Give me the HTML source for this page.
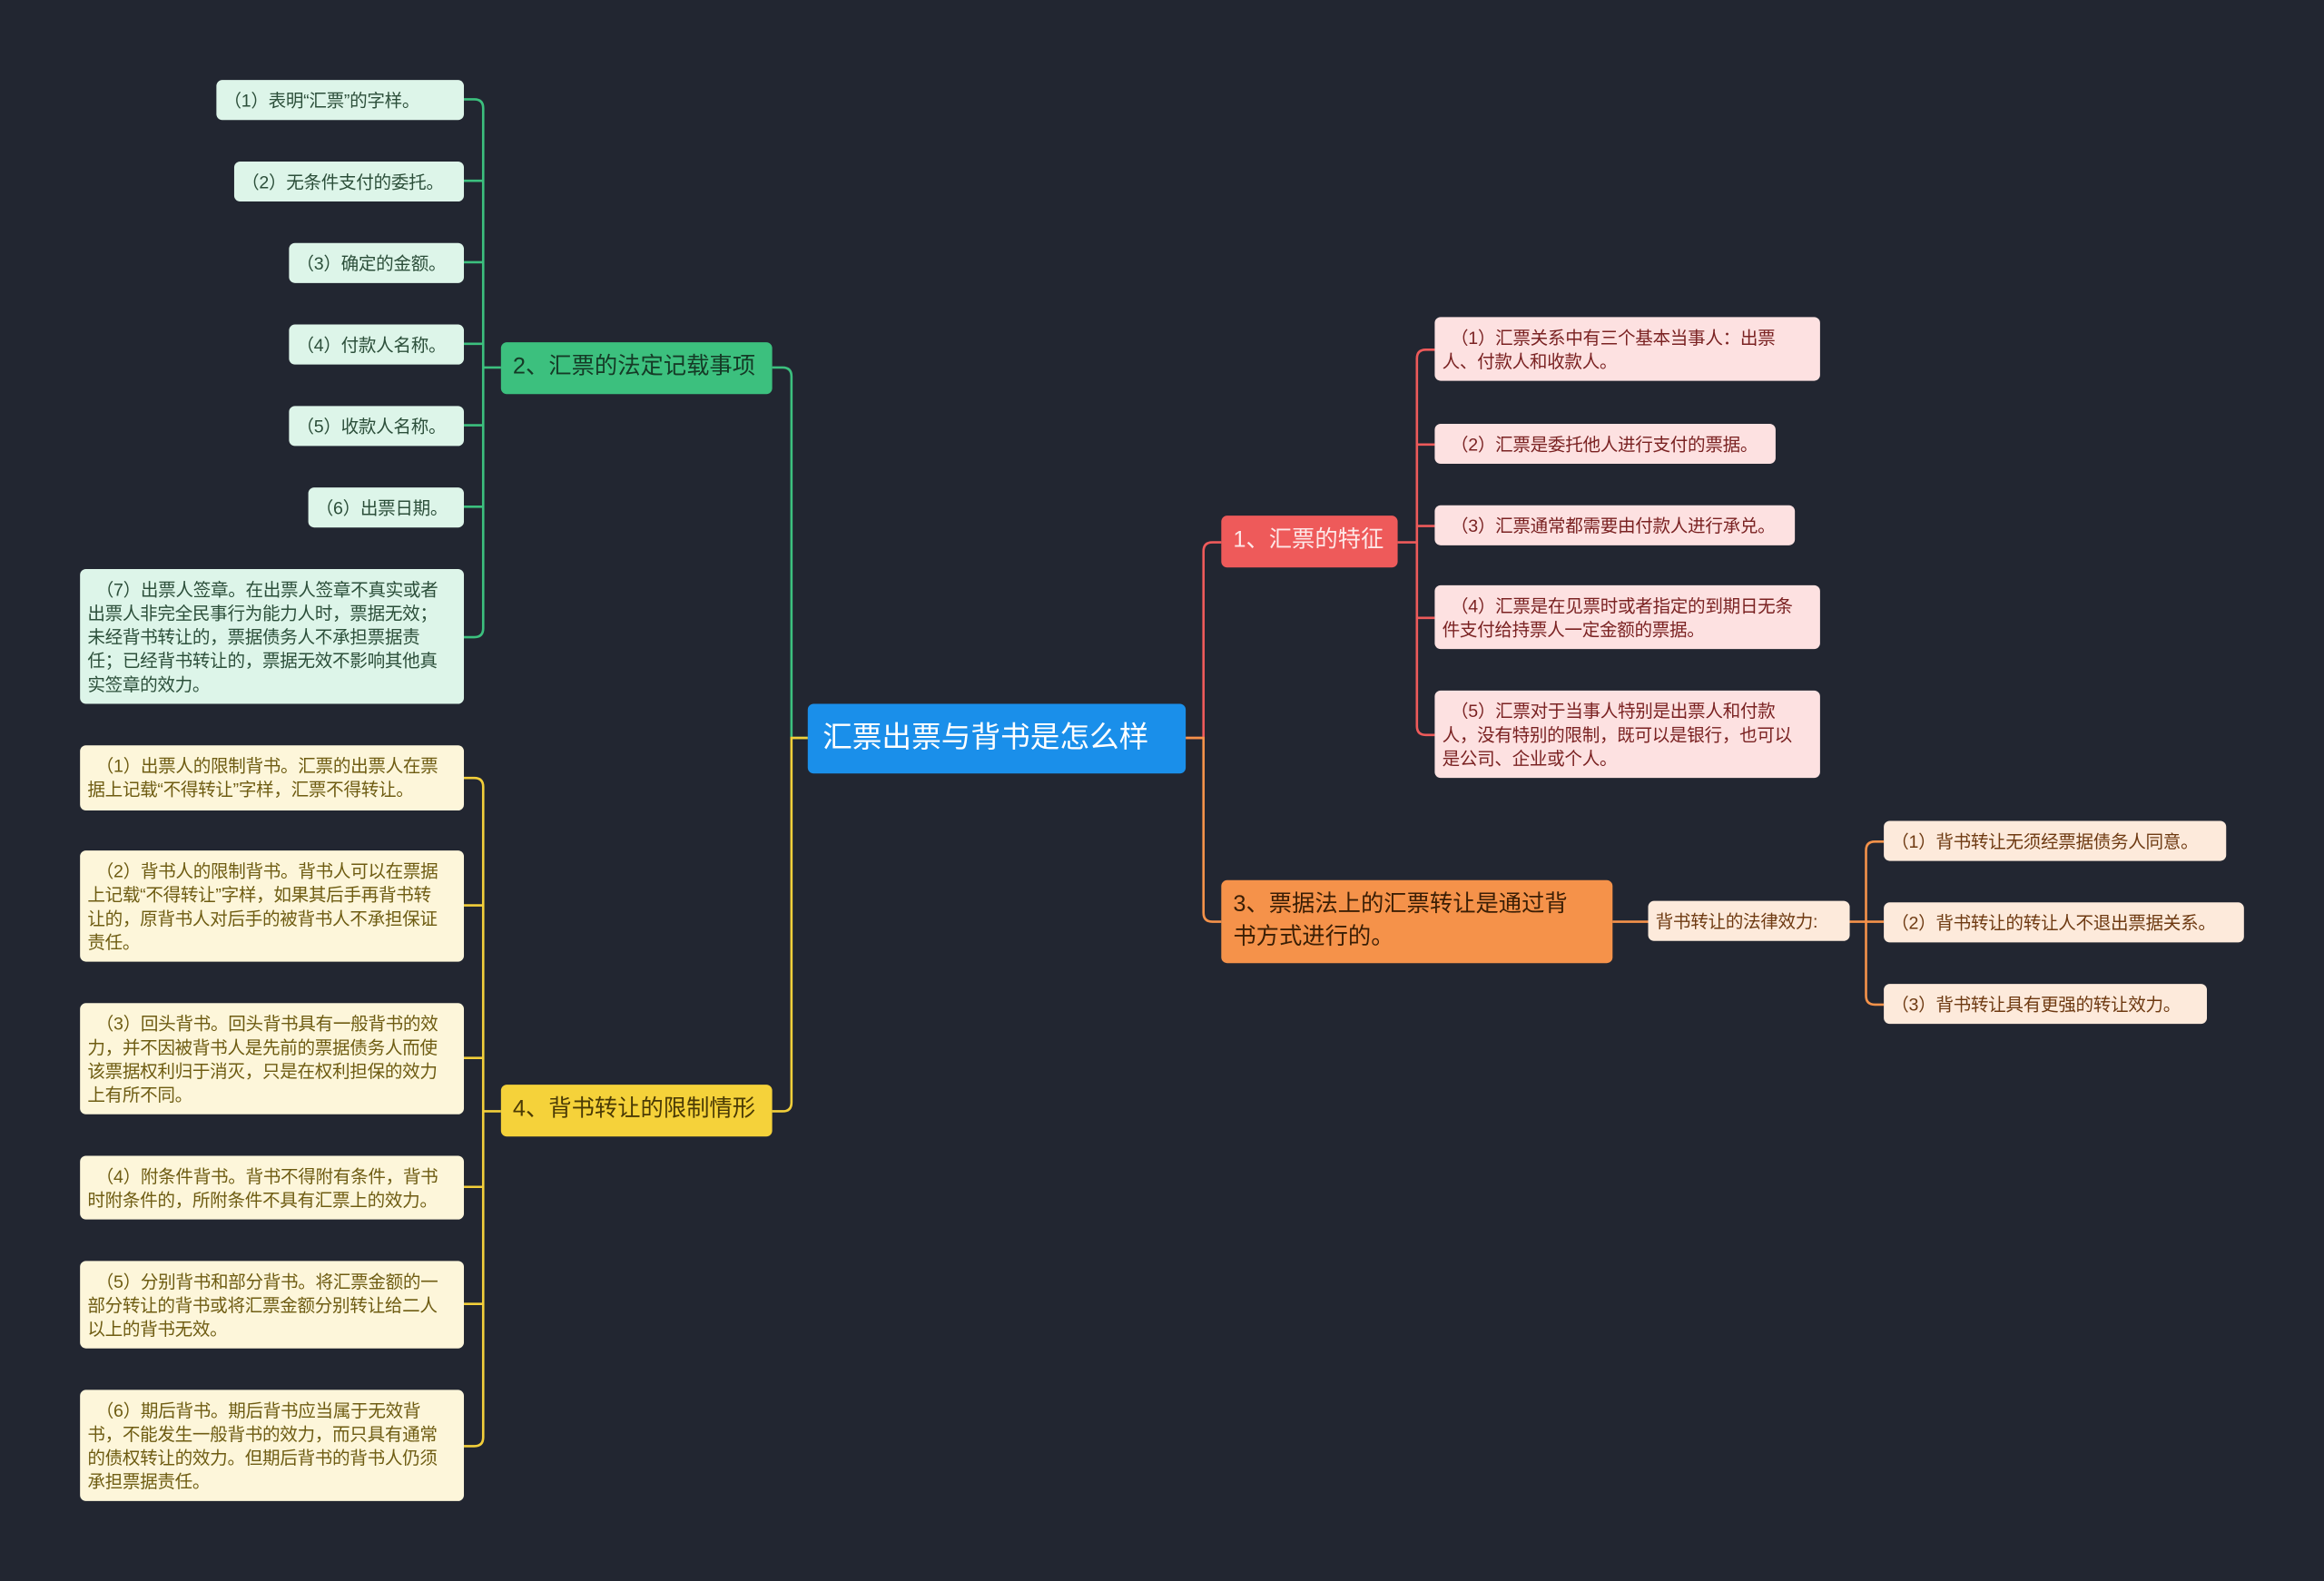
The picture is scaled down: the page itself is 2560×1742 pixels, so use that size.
<!DOCTYPE html>
<html><head><meta charset="utf-8"><style>
html,body{margin:0;padding:0;background:#222631;}
#wrap{position:absolute;left:0;top:0;width:1568px;height:1067px;transform:scale(1.63265);transform-origin:0 0;font-family:"Liberation Sans","Noto Sans CJK SC",sans-serif;}
.n{position:absolute;box-sizing:border-box;border-radius:4px;font-size:12px;line-height:16px;padding:6px 5px;word-break:break-all;letter-spacing:-0.2px;}
.m{padding-right:12px;}
.s{white-space:nowrap;overflow:visible;}
.g{background:#ddf5e9;color:#2c4f3a;}
.y{background:#fdf6da;color:#6e5c12;}
.r{background:#fde1e1;color:#7a2222;}
.o{background:#fdeadb;color:#6e3a12;}
.b{font-size:15.5px;line-height:22px;padding:6px 8px;border-radius:4px;letter-spacing:0;}
svg{position:absolute;left:0;top:0;}
</style></head><body><div id="wrap">
<svg width="1568" height="1067" fill="none" stroke-width="1.6">
<g stroke="#3cc07e">
<path d="M545 498 H534 V254 Q534 248 528 248 H521"/>
<path d="M338 248 H326"/>
<path d="M313 67 H320 Q326 67 326 73 V424 Q326 430 320 430 H313"/>
<path d="M313 122 H326 M313 177 H326 M313 232 H326 M313 287 H326 M313 342 H326"/>
</g>
<g stroke="#f3cf3a">
<path d="M545 498 H534 V744 Q534 750 528 750 H521"/>
<path d="M338 750 H326"/>
<path d="M313 525 H320 Q326 525 326 531 V970 Q326 976 320 976 H313"/>
<path d="M313 611 H326 M313 714 H326 M313 801 H326 M313 880 H326"/>
</g>
<g stroke="#ee5a5a">
<path d="M800 498 H812 V372 Q812 366 818 366 H824"/>
<path d="M943 366 H956"/>
<path d="M968 236 H962 Q956 236 956 242 V490 Q956 496 962 496 H968"/>
<path d="M956 300 H968 M956 355 H968 M956 417 H968"/>
</g>
<g stroke="#f5924a">
<path d="M800 498 H812 V616 Q812 622 818 622 H824"/>
<path d="M1088 622 H1112"/>
<path d="M1248 622 H1271"/>
<path d="M1271 568 H1265 Q1259 568 1259 574 V672 Q1259 678 1265 678 H1271"/>
</g>
</svg>
<div class="n b s" style="left:545px;top:475px;width:255px;height:47px;background:#1a8fea;color:#fff;font-size:20px;line-height:35px;padding:6px 10px;">汇票出票与背书是怎么样</div>
<div class="n b s" style="left:338px;top:231px;width:183px;height:35px;background:#3cc07e;color:#153a26;">2、汇票的法定记载事项</div>
<div class="n b s" style="left:338px;top:732px;width:183px;height:35px;background:#f5d23a;color:#4a3a05;">4、背书转让的限制情形</div>
<div class="n b s" style="left:824px;top:348px;width:119px;height:35px;background:#ee5a5a;color:#fde8e8;">1、汇票的特征</div>
<div class="n b" style="left:824px;top:594px;width:264px;height:56px;background:#f5924a;color:#3a1e05;line-height:22px;padding-right:20px;">3、票据法上的汇票转让是通过背书方式进行的。</div>

<div class="n g s" style="left:146px;top:54px;width:167px;height:27px;">（1）表明“汇票”的字样。</div>
<div class="n g s" style="left:158px;top:109px;width:155px;height:27px;">（2）无条件支付的委托。</div>
<div class="n g s" style="left:195px;top:164px;width:118px;height:27px;">（3）确定的金额。</div>
<div class="n g s" style="left:195px;top:219px;width:118px;height:27px;">（4）付款人名称。</div>
<div class="n g s" style="left:195px;top:274px;width:118px;height:27px;">（5）收款人名称。</div>
<div class="n g s" style="left:208px;top:329px;width:105px;height:27px;">（6）出票日期。</div>
<div class="n g m" style="left:54px;top:384px;width:259px;height:91px;">　（7）出票人签章。在出票人签章不真实或者出票人非完全民事行为能力人时，票据无效；未经背书转让的，票据债务人不承担票据责任；已经背书转让的，票据无效不影响其他真实签章的效力。</div>

<div class="n y m" style="left:54px;top:503px;width:259px;height:44px;">　（1）出票人的限制背书。汇票的出票人在票据上记载“不得转让”字样，汇票不得转让。</div>
<div class="n y m" style="left:54px;top:574px;width:259px;height:75px;">　（2）背书人的限制背书。背书人可以在票据上记载“不得转让”字样，如果其后手再背书转让的，原背书人对后手的被背书人不承担保证责任。</div>
<div class="n y m" style="left:54px;top:677px;width:259px;height:75px;">　（3）回头背书。回头背书具有一般背书的效力，并不因被背书人是先前的票据债务人而使该票据权利归于消灭，只是在权利担保的效力上有所不同。</div>
<div class="n y m" style="left:54px;top:780px;width:259px;height:43px;">　（4）附条件背书。背书不得附有条件，背书时附条件的，所附条件不具有汇票上的效力。</div>
<div class="n y m" style="left:54px;top:851px;width:259px;height:59px;">　（5）分别背书和部分背书。将汇票金额的一部分转让的背书或将汇票金额分别转让给二人以上的背书无效。</div>
<div class="n y m" style="left:54px;top:938px;width:259px;height:75px;">　（6）期后背书。期后背书应当属于无效背书，不能发生一般背书的效力，而只具有通常的债权转让的效力。但期后背书的背书人仍须承担票据责任。</div>

<div class="n r m" style="left:968px;top:214px;width:260px;height:43px;">　（1）汇票关系中有三个基本当事人：出票人、付款人和收款人。</div>
<div class="n r s" style="left:968px;top:286px;width:230px;height:27px;">　（2）汇票是委托他人进行支付的票据。</div>
<div class="n r s" style="left:968px;top:341px;width:243px;height:27px;">　（3）汇票通常都需要由付款人进行承兑。</div>
<div class="n r m" style="left:968px;top:395px;width:260px;height:43px;">　（4）汇票是在见票时或者指定的到期日无条件支付给持票人一定金额的票据。</div>
<div class="n r m" style="left:968px;top:466px;width:260px;height:59px;">　（5）汇票对于当事人特别是出票人和付款人，没有特别的限制，既可以是银行，也可以是公司、企业或个人。</div>

<div class="n o s" style="left:1112px;top:608px;width:136px;height:27px;">背书转让的法律效力:</div>
<div class="n o s" style="left:1271px;top:554px;width:231px;height:27px;">（1）背书转让无须经票据债务人同意。</div>
<div class="n o s" style="left:1271px;top:609px;width:243px;height:27px;">（2）背书转让的转让人不退出票据关系。</div>
<div class="n o s" style="left:1271px;top:664px;width:218px;height:27px;">（3）背书转让具有更强的转让效力。</div>
</div></body></html>
